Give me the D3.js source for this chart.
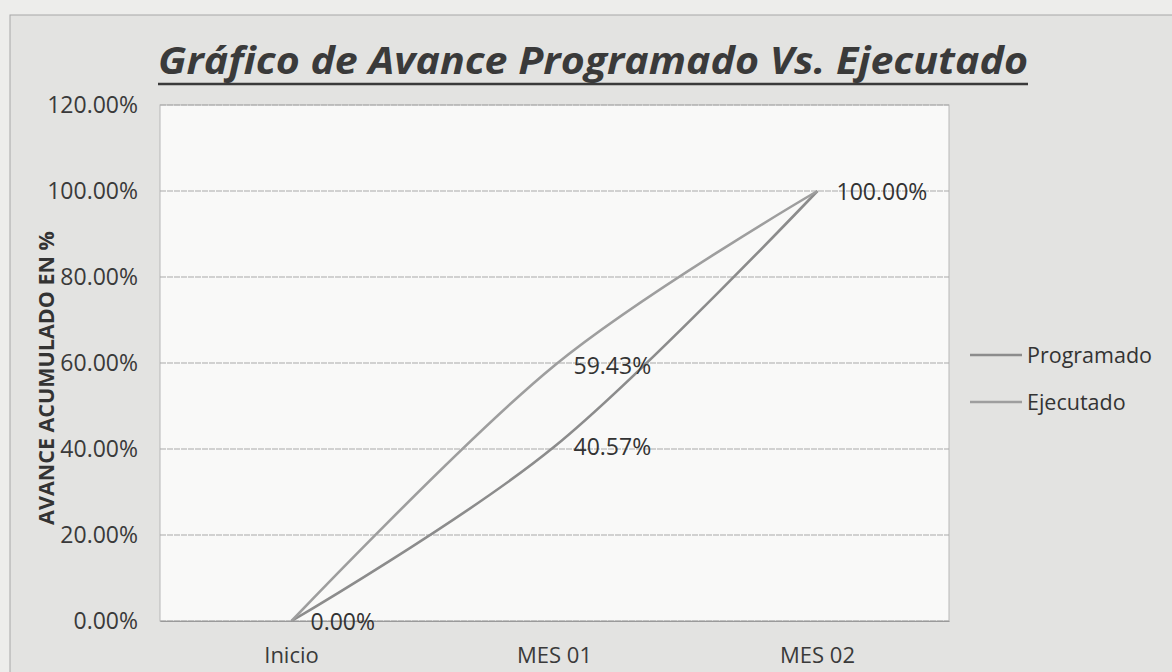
<!DOCTYPE html>
<html>
<head>
<meta charset="utf-8">
<script src="https://cdn.jsdelivr.net/npm/d3@7"></script>
<style>
  body { margin: 0; background: #e3e3e1; }
  svg { display: block; }
</style>
</head>
<body>
<div id="chart"></div>
<script>
// chart data
var categories = ["Inicio", "MES 01", "MES 02"];
var programado = [0, 40.57, 100];
var ejecutado = [0, 59.43, 100];
var yTicks = [0, 20, 40, 60, 80, 100, 120];
var seriesNames = ["Programado", "Ejecutado"];

var svgWidth = 1172;
var svgHeight = 672;

var margin = { top: 105, right: 223, bottom: 51, left: 160 };
var width = svgWidth - margin.left - margin.right;
var height = svgHeight - margin.top - margin.bottom;

var font = "'Open Sans', 'DejaVu Sans', sans-serif";

var svg = d3.select("#chart")
  .append("svg")
  .attr("width", svgWidth)
  .attr("height", svgHeight);

// paper + chart area background
svg.append("rect")
  .attr("width", svgWidth)
  .attr("height", svgHeight)
  .attr("fill", "#ededeb");

svg.append("rect")
  .attr("x", 10)
  .attr("y", 15)
  .attr("width", svgWidth)
  .attr("height", svgHeight)
  .attr("fill", "#e3e3e1")
  .attr("stroke", "#a8a8a8")
  .attr("stroke-width", 1);

var chartGroup = svg.append("g")
  .attr("transform", `translate(${margin.left}, ${margin.top})`);

// plot area
chartGroup.append("rect")
  .attr("width", width)
  .attr("height", height)
  .attr("fill", "#f9f9f8")
  .attr("stroke", "#b8b8b8")
  .attr("stroke-width", 1);

var xScale = d3.scaleBand()
  .domain(categories)
  .range([0, width]);

var yScale = d3.scaleLinear()
  .domain([0, 120])
  .range([height, 0]);

// gridlines
chartGroup.append("g")
  .selectAll("line")
  .data(yTicks)
  .enter()
  .append("line")
  .attr("x1", 0)
  .attr("x2", width)
  .attr("y1", d => yScale(d))
  .attr("y2", d => yScale(d))
  .attr("stroke", "#a9a9a9")
  .attr("stroke-width", 1)
  .attr("stroke-dasharray", "6,1");

// y axis
var leftAxis = d3.axisLeft(yScale)
  .tickValues(yTicks)
  .tickSize(0)
  .tickPadding(22)
  .tickFormat(d => d3.format(".2f")(d) + "%");

var yAxis = chartGroup.append("g").call(leftAxis);
yAxis.select(".domain").remove();
yAxis.selectAll("text")
  .attr("font-family", font)
  .attr("font-size", "23px")
  .attr("fill", "#3a3a3a");

// x axis
var bottomAxis = d3.axisBottom(xScale)
  .tickSize(0)
  .tickPadding(26);

var xAxis = chartGroup.append("g")
  .attr("transform", `translate(0, ${height})`)
  .call(bottomAxis);
xAxis.select(".domain").attr("stroke", "#9a9a9a");
xAxis.selectAll("text")
  .attr("font-family", font)
  .attr("font-size", "22px")
  .attr("fill", "#3a3a3a");

// smoothed lines
var line = d3.line()
  .x((d, i) => xScale(categories[i]) + xScale.bandwidth() / 2)
  .y(d => yScale(d))
  .curve(d3.curveCardinal.tension(0));

var colors = ["#8c8c8c", "#9e9e9e"];

[programado, ejecutado].forEach(function(values, s) {
  chartGroup.append("path")
    .datum(values)
    .attr("d", line)
    .attr("fill", "none")
    .attr("stroke", colors[s])
    .attr("stroke-width", 2.6);
});

// data labels (skip ejecutado where it repeats programado)
var labels = [];
programado.forEach(function(v, i) { labels.push({ i: i, v: v }); });
ejecutado.forEach(function(v, i) {
  if (v !== programado[i]) labels.push({ i: i, v: v });
});

chartGroup.selectAll(".label")
  .data(labels)
  .enter()
  .append("text")
  .attr("class", "label")
  .attr("x", d => xScale(categories[d.i]) + xScale.bandwidth() / 2 + 19)
  .attr("y", d => yScale(d.v))
  .attr("dy", "0.38em")
  .attr("font-family", font)
  .attr("font-size", "23px")
  .attr("fill", "#333")
  .text(d => d3.format(".2f")(d.v) + "%");

// legend
var legend = svg.append("g")
  .attr("transform", "translate(970, 355)");

seriesNames.forEach(function(name, s) {
  var g = legend.append("g").attr("transform", `translate(0, ${s * 47})`);
  g.append("line")
    .attr("x1", 0)
    .attr("x2", 52)
    .attr("stroke", colors[s])
    .attr("stroke-width", 2.6);
  g.append("text")
    .attr("x", 57)
    .attr("dy", "0.36em")
    .attr("font-family", font)
    .attr("font-size", "21.5px")
    .attr("fill", "#333")
    .text(name);
});

// y axis title
svg.append("text")
  .attr("transform", "translate(46, 378) rotate(-90)")
  .attr("text-anchor", "middle")
  .attr("dy", "0.36em")
  .attr("font-family", font)
  .attr("font-size", "21.5px")
  .attr("font-weight", "bold")
  .attr("fill", "#333")
  .text("AVANCE ACUMULADO EN %");

// title
svg.append("text")
  .attr("x", 593)
  .attr("y", 74)
  .attr("text-anchor", "middle")
  .attr("font-family", font)
  .attr("font-size", "38px")
  .attr("font-weight", "bold")
  .attr("font-style", "italic")
  .attr("fill", "#3a3a3a")
  .attr("textLength", 870)
  .attr("lengthAdjust", "spacingAndGlyphs")
  .text("Gráfico de Avance Programado Vs. Ejecutado");

svg.append("line")
  .attr("x1", 158)
  .attr("x2", 1028)
  .attr("y1", 84)
  .attr("y2", 84)
  .attr("stroke", "#3a3a3a")
  .attr("stroke-width", 2.5);
</script>
</body>
</html>
